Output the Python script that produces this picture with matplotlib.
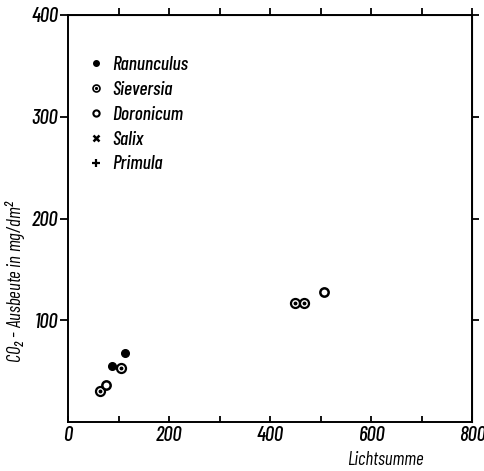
import matplotlib
matplotlib.use("Agg")
import matplotlib.pyplot as plt
from matplotlib.lines import Line2D
from matplotlib.legend_handler import HandlerTuple

plt.rcParams['font.family'] = ['Barlow Condensed', 'DejaVu Sans']
plt.rcParams['font.style'] = 'italic'
plt.rcParams['font.weight'] = 'medium'
plt.rcParams['mathtext.fontset'] = 'custom'
plt.rcParams['mathtext.rm'] = 'Barlow Condensed:italic:medium'
plt.rcParams['mathtext.it'] = 'Barlow Condensed:italic:medium'

ranunculus_x = [88, 113]
ranunculus_y = [55, 68]
sieversia_x = [63, 105, 450, 467]
sieversia_y = [30.5, 53.5, 116.5, 116.5]
doronicum_x = [74.5, 506]
doronicum_y = [36.5, 128]

legend_labels = ['Ranunculus', 'Sieversia', 'Doronicum', 'Salix', 'Primula']
x_ticks = [0, 200, 400, 600, 800]
y_ticks = [100, 200, 300, 400]

fig = plt.figure(figsize=(4.84, 4.71), dpi=100)
ax = fig.add_axes([68/484, 1-422/471, (472-68)/484, (422-15)/471])

# Ranunculus: gefuellte Kreise
ax.plot(ranunculus_x, ranunculus_y, 'o', color='black', markersize=5.5, ls='none')
# Sieversia: Kreis mit Punkt
ax.plot(sieversia_x, sieversia_y, 'o', mfc='white', mec='black', mew=1.6, markersize=6.5, ls='none')
ax.plot(sieversia_x, sieversia_y, 'o', color='black', markersize=1.8, ls='none')
# Doronicum: offene Kreise
ax.plot(doronicum_x, doronicum_y, 'o', mfc='white', mec='black', mew=1.8, markersize=6, ls='none')

ax.set_xlim(0, 800)
ax.set_ylim(0, 400)

for s in ax.spines.values():
    s.set_linewidth(1.4)

ax.set_xticks(x_ticks)
ax.set_xticks(range(100, 800, 200), minor=True)
ax.set_yticks(y_ticks)
ax.tick_params(axis='x', which='both', direction='in', length=4, width=1.3, labelsize=15, pad=3)
ax.tick_params(axis='y', which='both', direction='out', length=6, width=1.3, labelsize=15, pad=1)

# obere und rechte Achse mit Strichen nach aussen
top = ax.secondary_xaxis('top')
top.set_xticks(range(100, 900, 100))
top.tick_params(direction='out', length=5, width=1.3)
top.set_xticklabels([])
right = ax.secondary_yaxis('right')
right.set_yticks(y_ticks)
right.tick_params(direction='out', length=5, width=1.3)
right.set_yticklabels([])

ax.set_xlabel('Lichtsumme', fontsize=13.5)
ax.xaxis.set_label_coords(0.785, -0.072)
ax.set_ylabel('CO$_2$ - Ausbeute in mg/dm$^2$', fontsize=13.5)
ax.yaxis.set_label_coords(-0.1, 0.345)

# Legende
dot = Line2D([], [], marker='o', color='black', ls='none', markersize=1.3)
handles = [
    Line2D([], [], marker='o', color='black', ls='none', markersize=4),
    (Line2D([], [], marker='o', mfc='white', mec='black', mew=1.2, ls='none', markersize=5), dot),
    Line2D([], [], marker='o', mfc='white', mec='black', mew=1.5, ls='none', markersize=4.5),
    Line2D([], [], marker='x', color='black', mew=1.8, ls='none', markersize=5),
    Line2D([], [], marker='+', color='black', mew=1.6, ls='none', markersize=6),
]
ax.legend(handles, legend_labels, loc='upper left', bbox_to_anchor=(0.025, 0.918),
          frameon=False, fontsize=14, handlelength=1.0, handletextpad=0.35,
          labelspacing=0.35, borderaxespad=0,
          handler_map={tuple: HandlerTuple(ndivide=1)})

fig.savefig('out.png', dpi=100)
